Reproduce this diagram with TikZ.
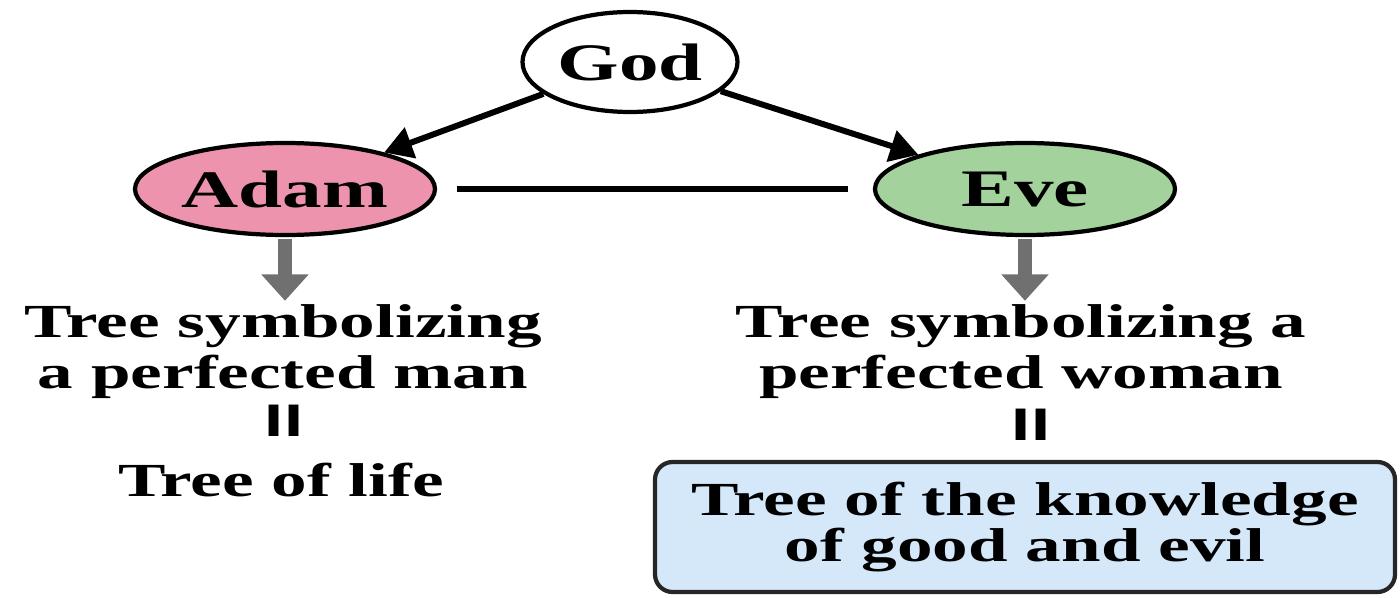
\documentclass[tikz,border=0pt]{standalone}
\usepackage{fontspec}
\setmainfont{Liberation Serif}[FakeStretch=1.5]
\newfontfamily\barres{Liberation Sans}[FakeStretch=1.5]
\usetikzlibrary{arrows.meta,shapes.geometric}
\definecolor{rose}{RGB}{238,147,174}
\definecolor{vert}{RGB}{163,210,156}
\definecolor{bleuclair}{RGB}{213,232,249}
\definecolor{gris}{RGB}{112,112,112}
\begin{document}
\begin{tikzpicture}
% Styles
\tikzstyle{bulle}=[ellipse,draw=black,line width=1.2pt,inner sep=0pt,font=\fontsize{15}{18}\selectfont\bfseries]
\tikzstyle{texte}=[align=center,inner sep=1pt,font=\fontsize{13.5}{14.5}\selectfont\bfseries]
\tikzstyle{egal}=[inner sep=0pt,font=\fontsize{13}{13}\selectfont\barres\bfseries]
\tikzstyle{boite}=[draw=black!85,line width=1.2pt,rounded corners=5pt,fill=bleuclair,align=center,font=\fontsize{13.5}{13}\selectfont\bfseries]
\tikzstyle{fleche}=[-{Triangle[length=8pt,width=9pt]},line width=1.7pt]
\tikzstyle{flechegrise}=[-{Triangle[length=7.5pt,width=13pt]},line width=4pt,gris,shorten <=0.6pt]
\tikzstyle{lien}=[line width=1.5pt,shorten <=0.2cm,shorten >=0.25cm]
% Dimensions Modifiables
\def\Lbulle{3.0}
\def\Hbulle{0.92}
\def\Gauche{2.85}
\def\Droite{10.25}
% Cadre
\useasboundingbox (0,0) rectangle (14,5.97);
% Ligne du haut : les bulles
\node[bulle,fill=white,minimum width=2.15cm,minimum height=1cm] (god) at (6.30,5.35) {God};
\node[bulle,fill=rose,minimum width=\Lbulle cm,minimum height=\Hbulle cm] (adam) at (\Gauche,4.08) {Adam};
\node[bulle,fill=vert,minimum width=\Lbulle cm,minimum height=\Hbulle cm] (eve) at (\Droite,4.08) {Eve};
% Colonne de gauche
\node[texte] (adamtree) at (2.83,2.45) {Tree symbolizing\\a perfected man};
\node[egal] (adamegal) at (2.84,1.76) {II};
\node[texte] (adamvie) at (2.81,1.17) {Tree of life};
% Colonne de droite
\node[texte] (evetree) at (10.21,2.45) {Tree symbolizing a\\perfected woman};
\node[egal] (eveegal) at (10.31,1.72) {II};
\node[boite,minimum width=7.4cm,minimum height=1.3cm] (evebox) at (10.25,0.70) {Tree of the knowledge\\of good and evil};
% Fleches
\draw[fleche] (god) -- (adam);
\draw[fleche] (god) -- (eve);
\draw[lien] (adam) -- (eve);
\draw[flechegrise] (adam.south) -- (adam.south |- adamtree.north);
\draw[flechegrise] (eve.south) -- (eve.south |- evetree.north);
\end{tikzpicture}
\end{document}
